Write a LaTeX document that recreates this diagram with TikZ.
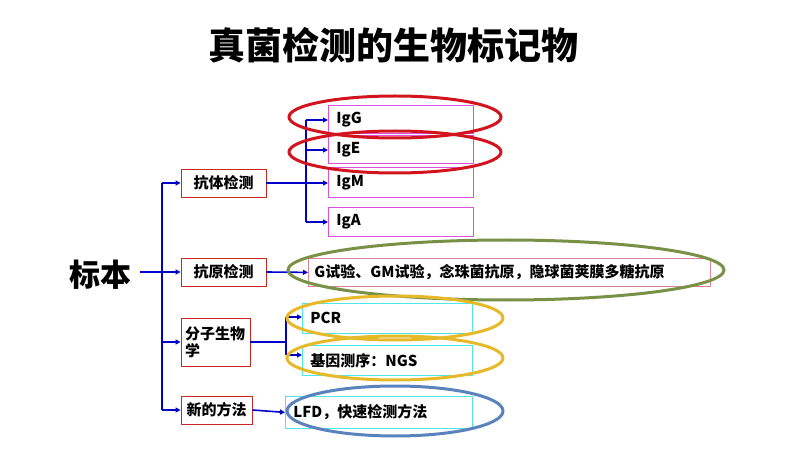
\documentclass[tikz,border=0pt]{standalone}
\usepackage{fontspec}
\setmainfont{Noto Sans CJK SC}
\usetikzlibrary{arrows.meta}
\begin{document}
\begin{tikzpicture}[x=1pt,y=-1pt,
  conn/.style={draw={rgb,255:red,0;green,0;blue,200},line width=1.6pt},
  arr/.style={conn,-{Triangle[length=5pt,width=5pt]}},
  lf/.style={font=\bfseries\fontsize{15}{17}\selectfont},
  rbox/.style={lf,draw={rgb,255:red,200;green,40;blue,40},line width=0.9pt,fill=white,inner sep=0pt},
  lbox/.style={lf,line width=0.8pt,inner ysep=0pt,inner xsep=8pt,anchor=north west,align=left},
  mbox/.style={lbox,draw={rgb,255:red,220;green,80;blue,220},minimum width=145,text width=129},
  cbox/.style={lbox,draw={rgb,255:red,80;green,230;blue,230}},
  ell/.style={line width=3pt}]
\useasboundingbox (0,0) rectangle (792,454);
\node[font=\bfseries\fontsize{37}{40}\selectfont] (title) at (393,45) {真菌检测的生物标记物};
\node[font=\bfseries\fontsize{31}{34}\selectfont] (bb) at (100,275) {标本};
% level 1 boxes
\node[rbox,minimum width=85,minimum height=28] (kt) at (223.5,183) {抗体检测};
\node[rbox,minimum width=69,minimum height=48,align=left,text width=61] (fz) at (215.5,342) {分子生物\\学};
\node[rbox,minimum width=85,minimum height=28] (ky) at (223.5,272) {抗原检测};
\node[rbox,minimum width=71,minimum height=28] (xf) at (216.5,410) {新的方法};
% Ig boxes
\node[mbox,minimum height=28] (igg) at (328,105) {IgG};
\node[mbox,minimum height=28] (ige) at (328,135) {IgE};
\node[mbox,minimum height=30] (igm) at (328,167) {IgM};
\node[mbox,minimum height=29] (iga) at (328,207) {IgA};
\node[lbox,draw={rgb,255:red,220;green,130;blue,150},minimum width=402,minimum height=28,text width=390,inner xsep=6pt] (ag) at (308,258) {G试验、GM试验，念珠菌抗原，隐球菌荚膜多糖抗原};
\node[cbox,minimum width=170,minimum height=30,text width=154] (pcr) at (302,303) {PCR};
\node[cbox,minimum width=170,minimum height=30,text width=154] (ngs) at (302,345) {基因测序：NGS};
\node[cbox,minimum width=187,minimum height=32,text width=171] (lfd) at (285,396) {LFD，快速检测方法};
% trunk
\coordinate (t0) at (140,272);
\coordinate (tt) at (162,183);
\coordinate (tb) at (162,410);
\draw[arr] (t0) -- (ky.west);
\draw[conn] (tt) -- (tb);
\draw[arr] (tt) -- (kt.west);
\draw[arr] (162,342) -- (fz.west);
\draw[arr] (tb) -- (xf.west);
% Ig branch
\coordinate (ib) at (306,183);
\draw[conn] (kt.east) -- (ib);
\draw[conn] (306,120) -- (306,222);
\draw[arr] (306,120) -- (igg.west|-306,120);
\draw[arr] (306,150) -- (ige.west|-306,150);
\draw[arr] (ib) -- (igm.west|-ib);
\draw[arr] (306,222) -- (iga.west|-306,222);
\draw[arr] (ky.east) -- (ag.west);
% molecular
\draw[conn] (fz.east) -- (286,342);
\draw[conn] (286,317) -- (286,355);
\draw[arr] (286,317) -- (pcr.west|-286,317);
\draw[arr] (286,355) -- (ngs.west|-286,355);
\draw[arr] (xf.east) -- (lfd.west);
% ellipses
\draw[ell,draw={rgb,255:red,210;green,20;blue,30}] (395,117) ellipse (106 and 21);
\draw[ell,draw={rgb,255:red,210;green,20;blue,30}] (395,152) ellipse (106 and 21);
\draw[ell,draw={rgb,255:red,120;green,145;blue,70}] (506,270) ellipse (218 and 30);
\draw[ell,draw={rgb,255:red,230;green,185;blue,40}] (395,318) ellipse (108 and 22);
\draw[ell,draw={rgb,255:red,230;green,185;blue,40}] (395,358) ellipse (108 and 22);
\draw[ell,draw={rgb,255:red,90;green,130;blue,190}] (395,411) ellipse (108 and 25);
\end{tikzpicture}
\end{document}
